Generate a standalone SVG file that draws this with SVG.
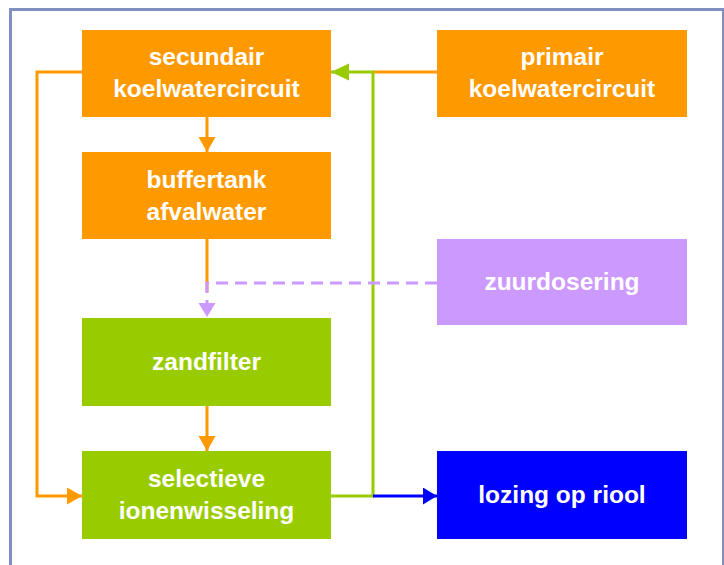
<svg xmlns="http://www.w3.org/2000/svg" width="724" height="565" viewBox="0 0 724 565">
<style>
.lbl{font-family:"Liberation Sans",Arial,sans-serif;font-size:24.5px;font-weight:bold;fill:#fff;text-anchor:middle}
.c{fill:none;stroke-width:3}
.or{stroke:#FF9900}
.gr{stroke:#99CC00}
.bl{stroke:#0000FF}
.pu{stroke:#CC99FF;stroke-dasharray:12 7}
</style>
<defs>
<marker id="aO" markerUnits="userSpaceOnUse" markerWidth="16" markerHeight="18" refX="15" refY="8.5" orient="auto"><path d="M0,0 L15,8.5 L0,17 Z" fill="#FF9900"/></marker>
<marker id="aG" markerUnits="userSpaceOnUse" markerWidth="19" markerHeight="18" refX="18" refY="8.5" orient="auto"><path d="M0,0 L18,8.5 L0,17 Z" fill="#99CC00"/></marker>
<marker id="aB" markerUnits="userSpaceOnUse" markerWidth="16" markerHeight="18" refX="14" refY="8.5" orient="auto"><path d="M0,0 L14,8.5 L0,17 Z" fill="#0000FF"/></marker>
<marker id="aP" markerUnits="userSpaceOnUse" markerWidth="16" markerHeight="18" refX="14" refY="8.5" orient="auto"><path d="M0,0 L14,8.5 L0,17 Z" fill="#CC99FF"/></marker>
</defs>
<rect x="0" y="0" width="724" height="565" fill="#fff"/>
<rect x="10.5" y="9.5" width="713" height="600" fill="none" stroke="#7F8FBF" stroke-width="3"/>
<g id="connectors">
<path class="c or" d="M82,72 H37 V496 H82" marker-end="url(#aO)"/>
<path class="c or" d="M437,72 H373"/>
<path class="c gr" d="M331,496 H373 V72 H331" marker-end="url(#aG)"/>
<path class="c bl" d="M373,496 H437" marker-end="url(#aB)"/>
<path class="c or" d="M207,117 V152" marker-end="url(#aO)"/>
<path class="c or" d="M207,239 V292"/>
<path class="c pu" d="M437,283 H207 V317" marker-end="url(#aP)"/>
<path class="c or" d="M207,406 V451" marker-end="url(#aO)"/>
</g>
<g id="secundair"><rect x="82" y="30" width="249" height="87" fill="#FF9900"/><text class="lbl" x="206.5" y="65">secundair</text><text class="lbl" x="206.5" y="97">koelwatercircuit</text></g>
<g id="primair"><rect x="437" y="30" width="250" height="87" fill="#FF9900"/><text class="lbl" x="562" y="65">primair</text><text class="lbl" x="562" y="97">koelwatercircuit</text></g>
<g id="buffertank"><rect x="82" y="152" width="249" height="87" fill="#FF9900"/><text class="lbl" x="206.5" y="188">buffertank</text><text class="lbl" x="206.5" y="220">afvalwater</text></g>
<g id="zuurdosering"><rect x="437" y="239" width="250" height="86" fill="#CC99FF"/><text class="lbl" x="562" y="290">zuurdosering</text></g>
<g id="zandfilter"><rect x="82" y="318" width="249" height="88" fill="#99CC00"/><text class="lbl" x="206.5" y="370">zandfilter</text></g>
<g id="selectieve"><rect x="82" y="451" width="249" height="88" fill="#99CC00"/><text class="lbl" x="206.5" y="487">selectieve</text><text class="lbl" x="206.5" y="519">ionenwisseling</text></g>
<g id="lozing"><rect x="437" y="451" width="250" height="88" fill="#0000FF"/><text class="lbl" x="562" y="503">lozing op riool</text></g>
</svg>
